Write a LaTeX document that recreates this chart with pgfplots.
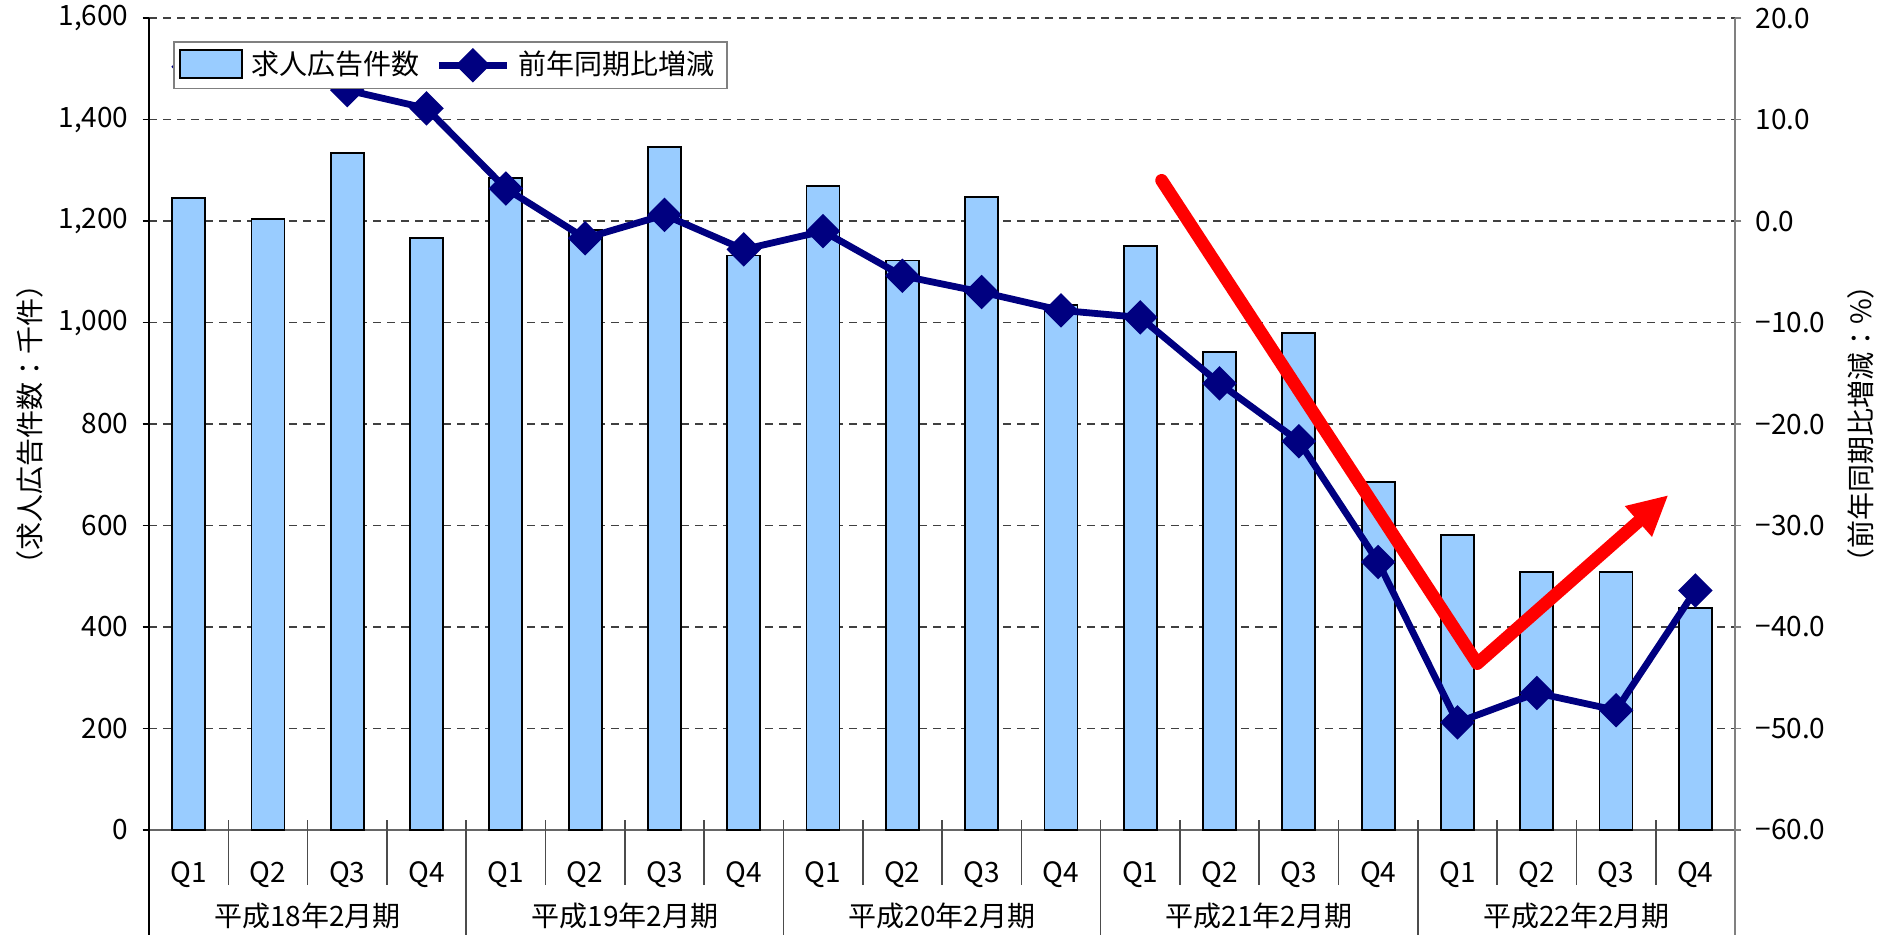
\documentclass[border=0pt]{standalone}
\usepackage{fontspec}
\setmainfont{Noto Sans CJK JP}
\usepackage{pgfplots}
\pgfplotsset{compat=1.18}
\usetikzlibrary{arrows.meta}
\definecolor{barblue}{HTML}{99CCFF}
\definecolor{navyline}{HTML}{000080}

\begin{document}
\begin{tikzpicture}[font=\fontsize{7}{8}\selectfont]
\useasboundingbox (0pt,0pt) rectangle (471.25pt,233.75pt);
\begin{axis}[
    at={(37.25pt,26.25pt)}, anchor=south west,
    scale only axis,
    width=396.5pt, height=203pt,
    xmin=-0.5, xmax=19.5,
    ymin=0, ymax=1600,
    axis x line*=bottom,
    axis y line*=left,
    x axis line style={gray!80!black, line width=0.5pt},
    y axis line style={black, line width=0.5pt},
    xtick={0,...,19},
    xticklabels={Q1,Q2,Q3,Q4,Q1,Q2,Q3,Q4,Q1,Q2,Q3,Q4,Q1,Q2,Q3,Q4,Q1,Q2,Q3,Q4},
    xtick style={draw=none},
    xticklabel style={anchor=center, yshift=-9.5pt},
    ytick={0,200,...,1600},
    yticklabels={0,200,400,600,800,{1,000},{1,200},{1,400},{1,600}},
    /pgf/number format/assume math mode=true,
    tick align=outside,
    major tick length=1.6pt,
    ytick style={black, line width=0.4pt},
    ymajorgrids,
    grid style={black!75, dash pattern=on 2pt off 1.5pt, line width=0.35pt},
    clip mode=individual,
]
\addplot[ybar, bar width=8.25pt, fill=barblue, draw=black, line width=0.45pt] coordinates {
    (0,1245) (1,1204) (2,1334) (3,1166)
    (4,1285) (5,1183) (6,1346) (7,1132)
    (8,1269) (9,1122) (10,1248) (11,1034)
    (12,1151) (13,942) (14,980) (15,685)
    (16,582) (17,508) (18,508) (19,437)
};
\pgfplotsinvokeforeach{0.5,1.5,2.5,4.5,5.5,6.5,8.5,9.5,10.5,12.5,13.5,14.5,16.5,17.5,18.5}{
    \draw[black!70, line width=0.4pt] (axis cs:#1,0) ++(0pt,2.5pt) -- ++(0pt,-16.25pt);
}
\pgfplotsinvokeforeach{3.5,7.5,11.5,15.5}{
    \draw[black!70, line width=0.4pt] (axis cs:#1,0) ++(0pt,2.5pt) -- ++(0pt,-28.75pt);
}
\draw[black, line width=0.5pt] (axis cs:-0.5,0) -- ++(0pt,-26.25pt);
\draw[gray, line width=0.5pt] (axis cs:19.5,0) -- ++(0pt,-26.25pt);
\node[yshift=-21.5pt] at (axis cs:1.5,0) {平成18年2月期};
\node[yshift=-21.5pt] at (axis cs:5.5,0) {平成19年2月期};
\node[yshift=-21.5pt] at (axis cs:9.5,0) {平成20年2月期};
\node[yshift=-21.5pt] at (axis cs:13.5,0) {平成21年2月期};
\node[yshift=-21.5pt] at (axis cs:17.5,0) {平成22年2月期};
\coordinate (lmid) at (rel axis cs:0,0.5);
\coordinate (rmid) at (rel axis cs:1,0.5);
\end{axis}

\begin{axis}[
    at={(37.25pt,26.25pt)}, anchor=south west,
    scale only axis,
    width=396.5pt, height=203pt,
    xmin=-0.5, xmax=19.5,
    ymin=-60, ymax=20,
    axis x line=none,
    axis y line*=right,
    y axis line style={gray, line width=0.5pt},
    ytick={-60,-50,...,20},
    yticklabels={−60.0,−50.0,−40.0,−30.0,−20.0,−10.0,0.0,10.0,20.0},
    tick align=outside,
    major tick length=1.6pt,
    ytick style={gray, line width=0.4pt},
    legend columns=2,
    legend style={at={(0,1)}, anchor=north west, xshift=6.25pt, yshift=-6pt,
        draw=gray, fill=white, line width=0.4pt, inner xsep=1.2pt, inner ysep=0.9pt,
        outer sep=0pt, nodes={inner ysep=1.2pt},
        font=\fontsize{7}{8}\selectfont,
        /tikz/every even column/.append style={column sep=2pt}},
]
\addlegendimage{legend image code/.code={\draw[fill=barblue, draw=black, line width=0.5pt] (0cm,-0.11cm) rectangle (0.55cm,0.13cm);}}
\addlegendentry{求人広告件数}
\addplot[navyline, line width=1.7pt, mark=square*, mark size=2.2pt, mark options={rotate=45, solid}] coordinates {
    (0,15.2) (1,15.0) (2,12.9) (3,11.1)
    (4,3.2) (5,-1.7) (6,0.6) (7,-2.8)
    (8,-1.0) (9,-5.4) (10,-7.0) (11,-8.8)
    (12,-9.5) (13,-16.0) (14,-21.7) (15,-33.6)
    (16,-49.4) (17,-46.5) (18,-48.2) (19,-36.4)
};
\addlegendentry{前年同期比増減}
\addplot[red, line width=3.2pt, line cap=round, line join=round,
    -{Triangle[length=10pt, width=9.5pt]}, forget plot] coordinates {
    (12.27,4.0) (16.25,-43.6) (18.66,-27.0)
};
\end{axis}

\node[rotate=90] at ([xshift=-29.75pt]lmid) {（求人広告件数：千件）};
\node[rotate=90] at ([xshift=31.5pt]rmid) {（前年同期比増減：\%）};
\end{tikzpicture}
\end{document}
